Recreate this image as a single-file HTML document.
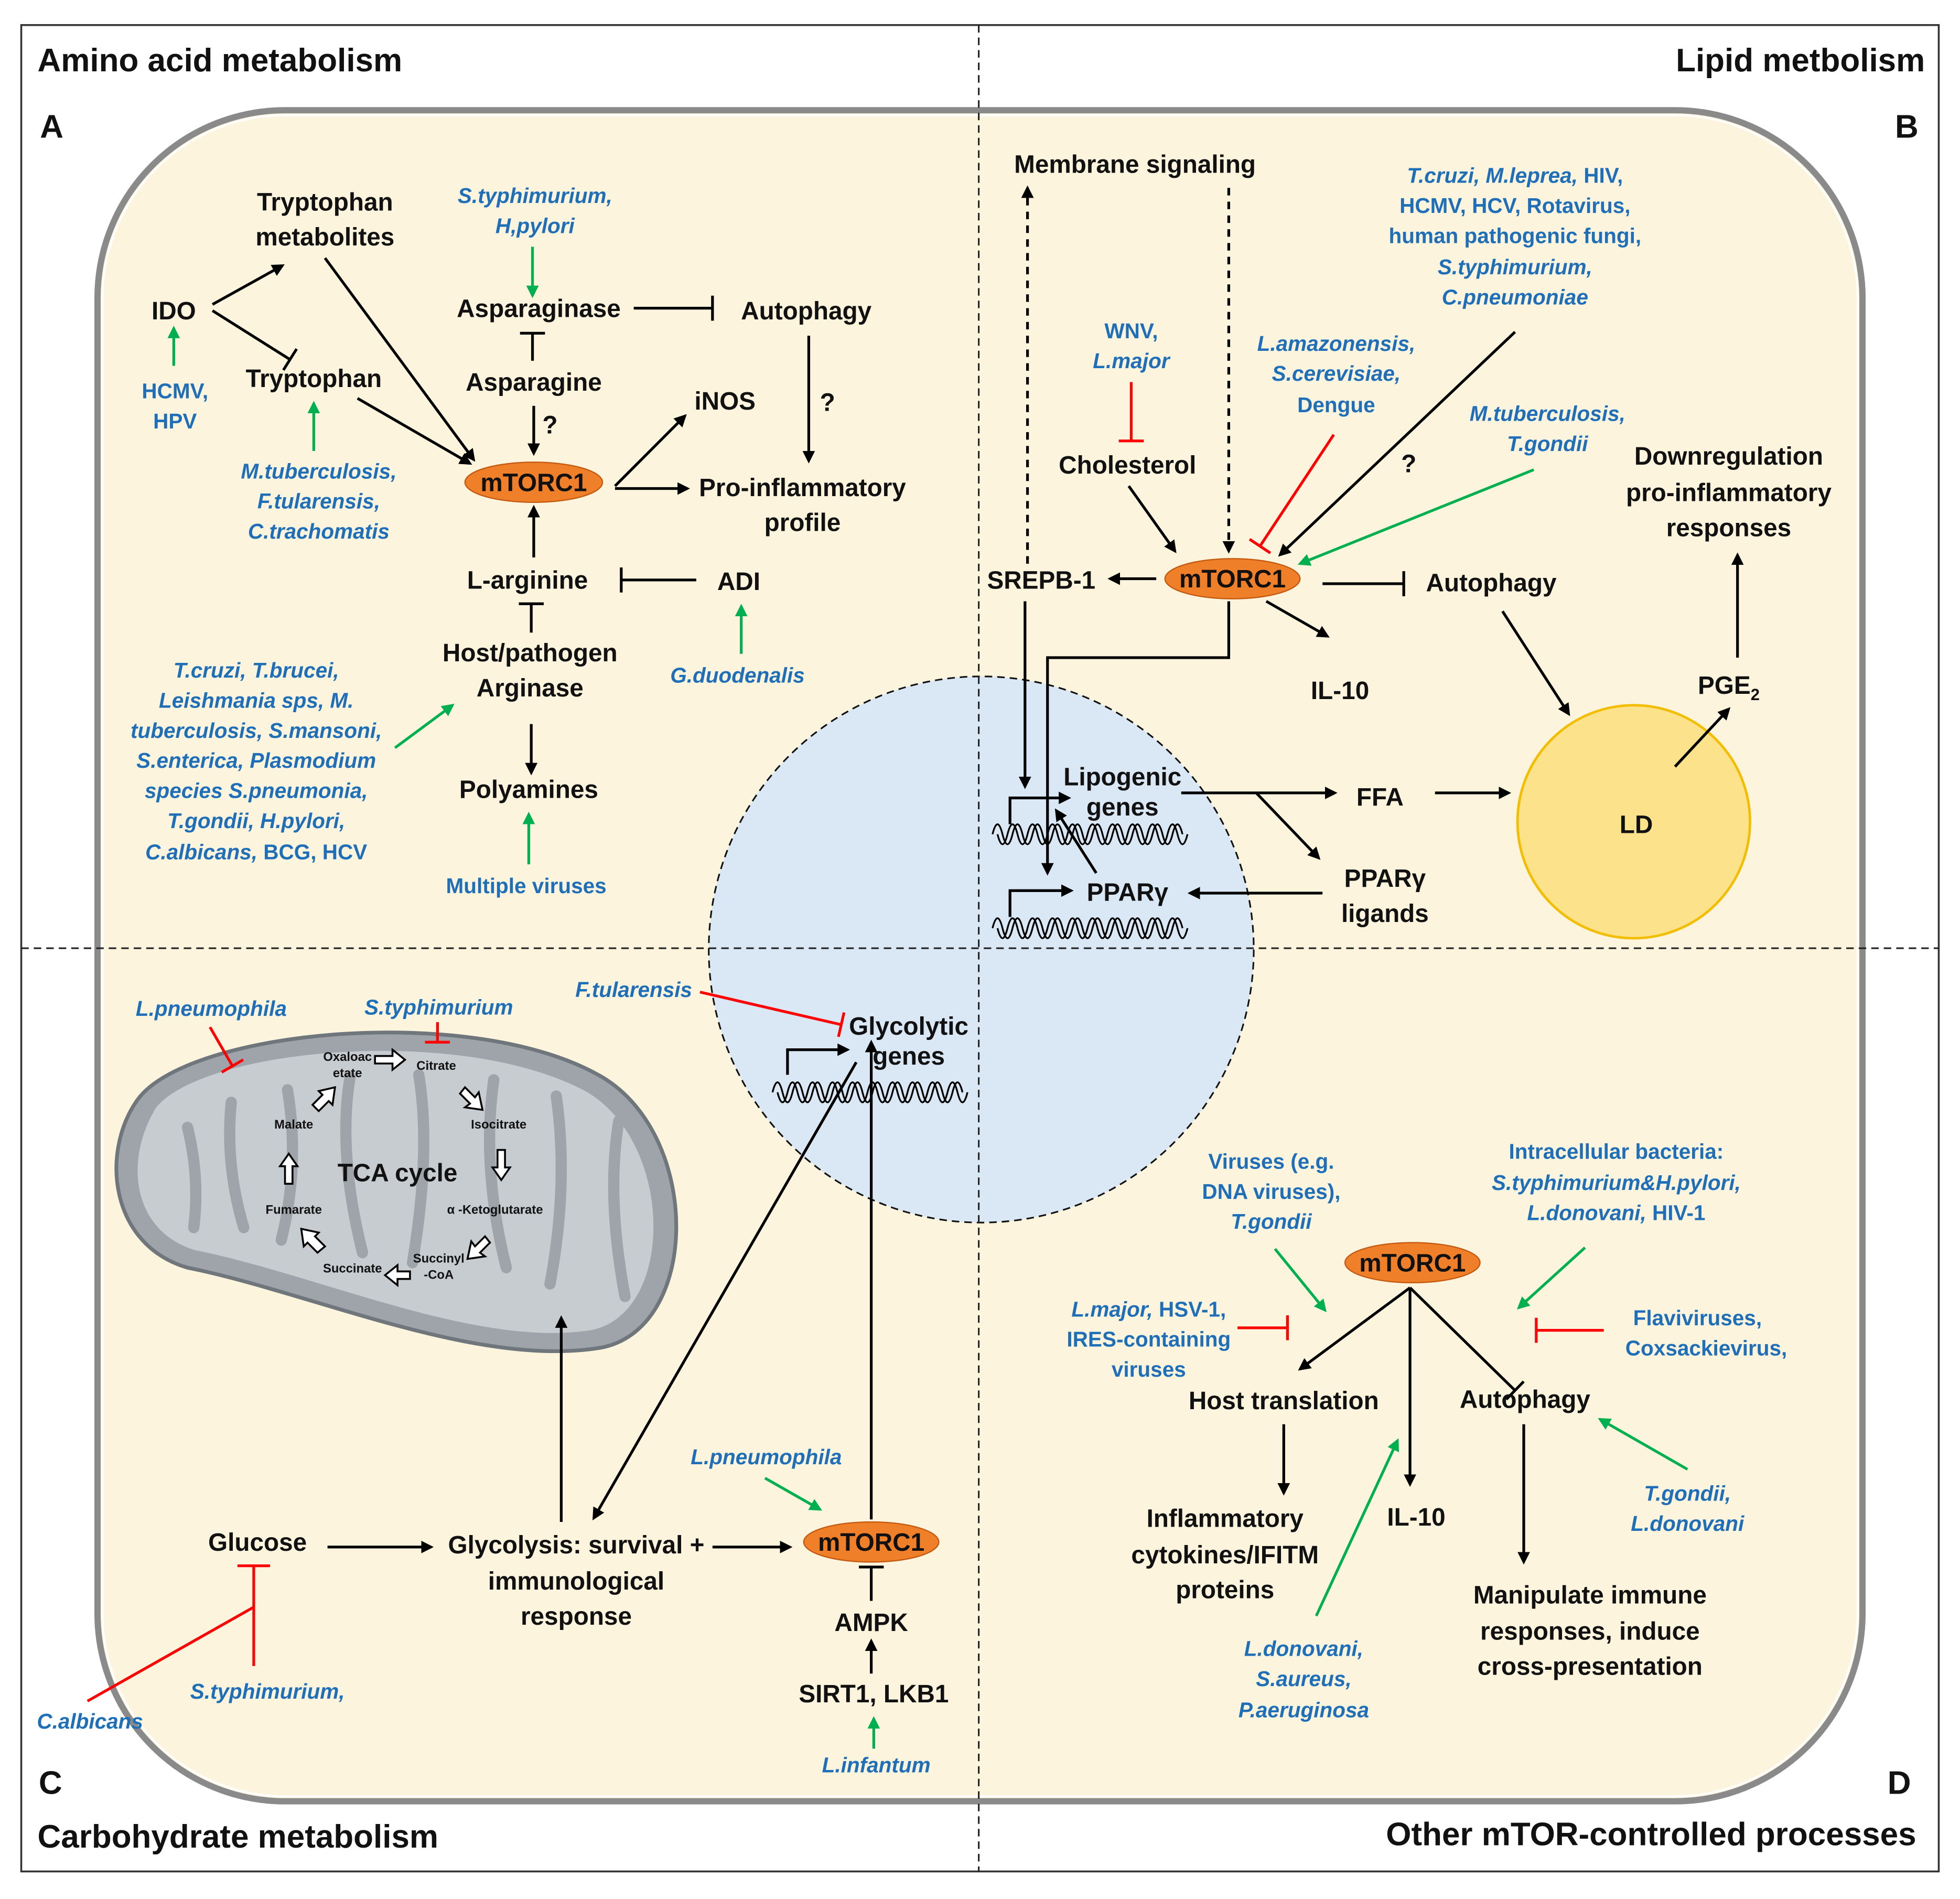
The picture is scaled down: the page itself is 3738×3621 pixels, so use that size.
<!DOCTYPE html>
<html><head><meta charset="utf-8">
<style>
html,body{margin:0;padding:0;background:#fff;}
svg{display:block;}
text{font-family:"Liberation Sans",sans-serif;font-weight:bold;}
.k{font-size:20px;fill:#111;text-anchor:middle;}
.b{font-size:17px;fill:#1f6fb8;font-style:italic;text-anchor:middle;}
.bn{font-size:17px;fill:#1f6fb8;text-anchor:middle;}
.h{font-size:26px;fill:#111;}
.s{font-size:10px;fill:#111;text-anchor:middle;font-weight:bold;}
.ln{stroke:#000;stroke-width:2.2;fill:none;}
.g{stroke:#00b050;stroke-width:2.2;fill:none;}
.r{stroke:#ff0000;stroke-width:2.2;fill:none;}
.dna{stroke:#000;stroke-width:1.4;fill:none;}
</style></head>
<body>
<svg width="3738" height="3621" viewBox="0 0 1568 1516" preserveAspectRatio="none" xmlns="http://www.w3.org/2000/svg">
<defs>
<marker id="ak" markerWidth="10" markerHeight="10" refX="8" refY="5" orient="auto" markerUnits="userSpaceOnUse"><path d="M0,0 L10,5 L0,10 z" fill="#000"/></marker>
<marker id="ag" markerWidth="10" markerHeight="10" refX="8" refY="5" orient="auto" markerUnits="userSpaceOnUse"><path d="M0,0 L10,5 L0,10 z" fill="#00b050"/></marker>
<marker id="tk" markerWidth="4" markerHeight="20" refX="2" refY="10" orient="auto" markerUnits="userSpaceOnUse"><path d="M2,0 L2,20" stroke="#000" stroke-width="2.2"/></marker>
<marker id="tr" markerWidth="4" markerHeight="20" refX="2" refY="10" orient="auto" markerUnits="userSpaceOnUse"><path d="M2,0 L2,20" stroke="#f00" stroke-width="2.2"/></marker>
<path id="wv" d="M0,0 q4,-16 8,0 q4,16 8,0 q4,-16 8,0 q4,16 8,0 q4,-16 8,0 q4,16 8,0 q4,-16 8,0 q4,16 8,0 q4,-16 8,0 q4,16 8,0 q4,-16 8,0 q4,16 8,0 q4,-16 8,0 q4,16 8,0 q4,-16 8,0 q4,16 8,0 q4,-16 8,0 q4,16 8,0 q4,-16 8,0"/>
<path id="wv2" d="M0,0 q4,16 8,0 q4,-16 8,0 q4,16 8,0 q4,-16 8,0 q4,16 8,0 q4,-16 8,0 q4,16 8,0 q4,-16 8,0 q4,16 8,0 q4,-16 8,0 q4,16 8,0 q4,-16 8,0 q4,16 8,0 q4,-16 8,0 q4,16 8,0 q4,-16 8,0 q4,16 8,0 q4,-16 8,0 q4,16 8,0"/>
</defs>
<rect x="0" y="0" width="1568" height="1516" fill="#fff"/>
<rect x="17" y="20" width="1534" height="1474" fill="#fff" stroke="#333" stroke-width="1.5"/>
<rect x="78" y="88" width="1412" height="1350" rx="150" fill="#fdf4de" stroke="#8a8a8a" stroke-width="5"/>
<rect x="82" y="92" width="1404" height="1342" rx="146" fill="none" stroke="#fff" stroke-width="1.5"/>
<circle cx="785" cy="758" r="218" fill="#dae8f5" stroke="#111" stroke-width="1.3" stroke-dasharray="6,4"/>
<line x1="783" y1="20" x2="783" y2="1494" stroke="#222" stroke-width="1.3" stroke-dasharray="6,4"/>
<line x1="17" y1="757" x2="1551" y2="757" stroke="#222" stroke-width="1.3" stroke-dasharray="6,4"/>
<circle cx="1307" cy="656" r="93" fill="#fde28c" stroke="#f3bd00" stroke-width="2"/>
<text class="k" x="1309" y="665" font-size="18">LD</text>

<text class="h" x="30" y="57">Amino acid metabolism</text>
<text class="h" x="32" y="110">A</text>
<text class="h" x="1540" y="57" text-anchor="end">Lipid metbolism</text>
<text class="h" x="1516" y="110">B</text>
<text class="h" x="31" y="1432">C</text>
<text class="h" x="30" y="1475">Carbohydrate metabolism</text>
<text class="h" x="1510" y="1432">D</text>
<text class="h" x="1533" y="1473" text-anchor="end">Other mTOR-controlled processes</text>

<!-- Panel A -->
<text class="k" x="260" y="168">Tryptophan</text>
<text class="k" x="260" y="196">metabolites</text>
<text class="k" x="139" y="255">IDO</text>
<line class="ln" x1="170" y1="243" x2="226" y2="212" marker-end="url(#ak)"/>
<line class="ln" x1="170" y1="248" x2="232" y2="287" marker-end="url(#tk)"/>
<line class="g" x1="139" y1="292" x2="139" y2="262" marker-end="url(#ag)"/>
<text class="bn" x="140" y="318">HCMV,</text>
<text class="bn" x="140" y="342">HPV</text>
<text class="k" x="251" y="309">Tryptophan</text>
<line class="g" x1="251" y1="360" x2="251" y2="322" marker-end="url(#ag)"/>
<text class="b" x="255" y="382">M.tuberculosis,</text>
<text class="b" x="255" y="406">F.tularensis,</text>
<text class="b" x="255" y="430">C.trachomatis</text>
<line class="ln" x1="260" y1="206" x2="379" y2="367" marker-end="url(#ak)"/>
<line class="ln" x1="286" y1="318" x2="376" y2="370" marker-end="url(#ak)"/>
<ellipse cx="427" cy="385" rx="55" ry="16" fill="#f07f2a" stroke="#c45a10" stroke-width="1"/>
<text class="k" x="427" y="392" font-size="19">mTORC1</text>
<text class="b" x="428" y="162">S.typhimurium,</text>
<text class="b" x="428" y="186">H,pylori</text>
<line class="g" x1="426" y1="197" x2="426" y2="236" marker-end="url(#ag)"/>
<text class="k" x="431" y="253">Asparaginase</text>
<line class="ln" x1="507" y1="246" x2="570" y2="246" marker-end="url(#tk)"/>
<text class="k" x="645" y="255">Autophagy</text>
<line class="ln" x1="647" y1="268" x2="647" y2="368" marker-end="url(#ak)"/>
<text class="k" x="662" y="328">?</text>
<line class="ln" x1="426" y1="288" x2="426" y2="266" marker-end="url(#tk)"/>
<text class="k" x="427" y="312">Asparagine</text>
<line class="ln" x1="427" y1="324" x2="427" y2="362" marker-end="url(#ak)"/>
<text class="k" x="440" y="346">?</text>
<line class="ln" x1="492" y1="388" x2="548" y2="332" marker-end="url(#ak)"/>
<line class="ln" x1="492" y1="390" x2="550" y2="390" marker-end="url(#ak)"/>
<text class="k" x="580" y="327">iNOS</text>
<text class="k" x="642" y="396">Pro-inflammatory</text>
<text class="k" x="642" y="424">profile</text>
<line class="ln" x1="427" y1="445" x2="427" y2="405" marker-end="url(#ak)"/>
<text class="k" x="422" y="470">L-arginine</text>
<line class="ln" x1="557" y1="463" x2="497" y2="463" marker-end="url(#tk)"/>
<text class="k" x="591" y="471">ADI</text>
<line class="g" x1="593" y1="522" x2="593" y2="484" marker-end="url(#ag)"/>
<text class="b" x="590" y="545">G.duodenalis</text>
<line class="ln" x1="425" y1="505" x2="425" y2="482" marker-end="url(#tk)"/>
<text class="k" x="424" y="528">Host/pathogen</text>
<text class="k" x="424" y="556">Arginase</text>
<line class="ln" x1="425" y1="578" x2="425" y2="617" marker-end="url(#ak)"/>
<text class="k" x="423" y="637">Polyamines</text>
<line class="g" x1="423" y1="690" x2="423" y2="650" marker-end="url(#ag)"/>
<text class="bn" x="421" y="713">Multiple viruses</text>
<text class="b" x="205" y="541">T.cruzi, T.brucei,</text>
<text class="b" x="205" y="565">Leishmania sps, M.</text>
<text class="b" x="205" y="589">tuberculosis, S.mansoni,</text>
<text class="b" x="205" y="613">S.enterica, Plasmodium</text>
<text class="b" x="205" y="637">species S.pneumonia,</text>
<text class="b" x="205" y="661">T.gondii,  H.pylori,</text>
<text class="b" x="205" y="686">C.albicans, <tspan font-style="normal">BCG, HCV</tspan></text>
<line class="g" x1="316" y1="597" x2="362" y2="563" marker-end="url(#ag)"/>

<!-- Panel B -->
<text class="k" x="908" y="138">Membrane signaling</text>
<line class="ln" x1="822" y1="450" x2="822" y2="150" stroke-dasharray="6,5" marker-end="url(#ak)"/>
<line class="ln" x1="983" y1="150" x2="983" y2="440" stroke-dasharray="6,5" marker-end="url(#ak)"/>
<text class="b" x="1212" y="146">T.cruzi, M.leprea, <tspan font-style="normal">HIV,</tspan></text>
<text class="bn" x="1212" y="170">HCMV, HCV, Rotavirus,</text>
<text class="bn" x="1212" y="194">human pathogenic fungi,</text>
<text class="b" x="1212" y="219">S.typhimurium,</text>
<text class="b" x="1212" y="243">C.pneumoniae</text>
<text class="bn" x="905" y="270">WNV,</text>
<text class="b" x="905" y="294">L.major</text>
<line class="r" x1="905" y1="305" x2="905" y2="352" marker-end="url(#tr)"/>
<text class="b" x="1069" y="280">L.amazonensis,</text>
<text class="b" x="1069" y="304">S.cerevisiae,</text>
<text class="bn" x="1069" y="329">Dengue</text>
<line class="r" x1="1067" y1="347" x2="1008" y2="436" marker-end="url(#tr)"/>
<text class="b" x="1238" y="336">M.tuberculosis,</text>
<text class="b" x="1238" y="360">T.gondii</text>
<line class="g" x1="1227" y1="375" x2="1040" y2="450" marker-end="url(#ag)"/>
<line class="ln" x1="1212" y1="265" x2="1024" y2="443" marker-end="url(#ak)"/>
<text class="k" x="1127" y="377">?</text>
<text class="k" x="902" y="378">Cholesterol</text>
<line class="ln" x1="903" y1="388" x2="940" y2="440" marker-end="url(#ak)"/>
<ellipse cx="986" cy="462" rx="54" ry="16" fill="#f07f2a" stroke="#c45a10" stroke-width="1"/>
<text class="k" x="986" y="469" font-size="19">mTORC1</text>
<text class="k" x="833" y="470">SREPB-1</text>
<line class="ln" x1="925" y1="462" x2="888" y2="462" marker-end="url(#ak)"/>
<line class="ln" x1="1058" y1="466" x2="1123" y2="466" marker-end="url(#tk)"/>
<text class="k" x="1193" y="472">Autophagy</text>
<line class="ln" x1="1013" y1="480" x2="1062" y2="508" marker-end="url(#ak)"/>
<text class="k" x="1072" y="558">IL-10</text>
<polyline class="ln" points="983,480 983,525 838,525 838,697" marker-end="url(#ak)"/>
<line class="ln" x1="820" y1="480" x2="820" y2="628" marker-end="url(#ak)"/>
<text class="k" x="1383" y="371">Downregulation</text>
<text class="k" x="1383" y="400">pro-inflammatory</text>
<text class="k" x="1383" y="428">responses</text>
<line class="ln" x1="1390" y1="525" x2="1390" y2="443" marker-end="url(#ak)"/>
<line class="ln" x1="1202" y1="488" x2="1255" y2="570" marker-end="url(#ak)"/>
<text class="k" x="1383" y="554">PGE<tspan font-size="13" dy="5">2</tspan></text>
<line class="ln" x1="1340" y1="612" x2="1383" y2="566" marker-end="url(#ak)"/>
<text class="k" x="898" y="627" font-size="18">Lipogenic</text>
<text class="k" x="898" y="651" font-size="18">genes</text>
<line class="ln" x1="945" y1="633" x2="1068" y2="633" marker-end="url(#ak)"/>
<text class="k" x="1104" y="643">FFA</text>
<line class="ln" x1="1148" y1="633" x2="1207" y2="633" marker-end="url(#ak)"/>
<line class="ln" x1="1005" y1="633" x2="1055" y2="685" marker-end="url(#ak)"/>
<text class="k" x="1108" y="708">PPARγ</text>
<text class="k" x="1108" y="736">ligands</text>
<line class="ln" x1="1058" y1="713" x2="952" y2="713" marker-end="url(#ak)"/>
<text class="k" x="902" y="719" font-size="18">PPARγ</text>
<line class="ln" x1="877" y1="697" x2="845" y2="647" marker-end="url(#ak)"/>
<polyline class="ln" points="808,658 808,637 855,637" marker-end="url(#ak)"/>
<polyline class="ln" points="808,732 808,711 857,711" marker-end="url(#ak)"/>
<use href="#wv" class="dna" x="794" y="666"/>
<use href="#wv2" class="dna" x="798" y="666"/>
<use href="#wv" class="dna" x="794" y="741"/>
<use href="#wv2" class="dna" x="798" y="741"/>

<!-- Panel C -->
<path d="M110,878 C150,822 380,800 482,860 C562,908 560,1062 480,1076 C380,1092 250,1032 150,1012 C88,994 80,920 110,878 Z" fill="#9ea4a9" stroke="#6f767c" stroke-width="3"/>
<path d="M125,884 C165,836 372,818 470,872 C540,914 540,1050 472,1062 C380,1076 256,1018 156,998 C104,982 100,924 125,884 Z" fill="#c7ccd0"/>
<g stroke="#9ea4a9" stroke-width="9" fill="none" stroke-linecap="round">
<path d="M150,900 q10,40 5,80"/><path d="M185,880 q-5,50 10,100"/><path d="M230,870 q10,60 -5,120"/>
<path d="M280,860 q-10,60 10,140"/><path d="M335,858 q10,60 -5,150"/><path d="M395,862 q-10,70 10,150"/>
<path d="M445,875 q10,70 -5,150"/><path d="M495,895 q-10,60 5,140"/>
</g>
<text class="k" x="318" y="943" font-size="19">TCA cycle</text>
<text class="s" x="278" y="847">Oxaloac</text><text class="s" x="278" y="860">etate</text>
<text class="s" x="349" y="854">Citrate</text>
<text class="s" x="399" y="901">Isocitrate</text>
<text class="s" x="396" y="969">α -Ketoglutarate</text>
<text class="s" x="351" y="1008">Succinyl</text><text class="s" x="351" y="1021">-CoA</text>
<text class="s" x="282" y="1016">Succinate</text>
<text class="s" x="235" y="969">Fumarate</text>
<text class="s" x="235" y="901">Malate</text>
<g fill="#fff" stroke="#000" stroke-width="1.5">
<path d="M300,843 h14 v-5 l10,8 l-10,8 v-5 h-14 z"/>
<path d="M372,868 l8,8 l3,-4 l3,14 l-14,-2 l4,-3 l-8,-8 z"/>
<path d="M398,918 h6 v14 h4 l-7,10 l-7,-10 h4 z"/>
<path d="M388,987 l-8,8 l-3,-4 l-3,14 l14,-2 l-4,-3 l8,-8 z"/>
<path d="M328,1015 h-10 v-5 l-10,8 l10,8 v-5 h10 z"/>
<path d="M260,995 l-8,-8 l3,-3 l-14,-3 l2,14 l3,-3 l8,8 z"/>
<path d="M228,945 h6 v-14 h4 l-7,-10 l-7,10 h4 z"/>
<path d="M250,882 l8,-8 l-3,-3 l13,-3 l-2,14 l-3,-3 l-8,8 z"/>
</g>
<text class="b" x="169" y="811">L.pneumophila</text>
<line class="r" x1="168" y1="820" x2="186" y2="851" marker-end="url(#tr)"/>
<text class="b" x="351" y="810">S.typhimurium</text>
<line class="r" x1="350" y1="816" x2="350" y2="832" marker-end="url(#tr)"/>
<text class="b" x="507" y="796">F.tularensis</text>
<line class="r" x1="560" y1="792" x2="673" y2="818" marker-end="url(#tr)"/>
<text class="k" x="727" y="826" font-size="18">Glycolytic</text>
<text class="k" x="727" y="850" font-size="18">genes</text>
<polyline class="ln" points="630,858 630,838 678,838" marker-end="url(#ak)"/>
<use href="#wv" class="dna" x="618" y="872"/>
<use href="#wv2" class="dna" x="622" y="872"/>
<text class="k" x="206" y="1238">Glucose</text>
<line class="ln" x1="262" y1="1235" x2="345" y2="1235" marker-end="url(#ak)"/>
<text class="k" x="461" y="1240">Glycolysis: survival +</text>
<text class="k" x="461" y="1269">immunological</text>
<text class="k" x="461" y="1297">response</text>
<line class="ln" x1="570" y1="1235" x2="632" y2="1235" marker-end="url(#ak)"/>
<line class="ln" x1="449" y1="1215" x2="449" y2="1052" marker-end="url(#ak)"/>
<line class="ln" x1="685" y1="848" x2="475" y2="1212" marker-end="url(#ak)"/>
<ellipse cx="697" cy="1231" rx="54" ry="16" fill="#f07f2a" stroke="#c45a10" stroke-width="1"/>
<text class="k" x="697" y="1238" font-size="19">mTORC1</text>
<line class="ln" x1="697" y1="1213" x2="697" y2="832" marker-end="url(#ak)"/>
<line class="ln" x1="697" y1="1278" x2="697" y2="1251" marker-end="url(#tk)"/>
<text class="k" x="697" y="1302">AMPK</text>
<line class="ln" x1="697" y1="1336" x2="697" y2="1310" marker-end="url(#ak)"/>
<text class="k" x="699" y="1359">SIRT1, LKB1</text>
<line class="g" x1="699" y1="1396" x2="699" y2="1372" marker-end="url(#ag)"/>
<text class="b" x="701" y="1415">L.infantum</text>
<text class="b" x="613" y="1169">L.pneumophila</text>
<line class="g" x1="612" y1="1180" x2="656" y2="1205" marker-end="url(#ag)"/>
<line class="r" x1="203" y1="1330" x2="203" y2="1250"/>
<line class="r" x1="190" y1="1250" x2="216" y2="1250"/>
<line class="r" x1="70" y1="1358" x2="203" y2="1283"/>
<text class="b" x="72" y="1380">C.albicans</text>
<text class="b" x="214" y="1356">S.typhimurium,</text>

<!-- Panel D -->
<text class="bn" x="1017" y="933">Viruses (e.g.</text>
<text class="bn" x="1017" y="957">DNA viruses),</text>
<text class="b" x="1017" y="981">T.gondii</text>
<line class="g" x1="1020" y1="997" x2="1060" y2="1046" marker-end="url(#ag)"/>
<text class="bn" x="1293" y="925">Intracellular bacteria:</text>
<text class="b" x="1293" y="950">S.typhimurium&amp;H.pylori,</text>
<text class="b" x="1293" y="974">L.donovani,  <tspan font-style="normal">HIV-1</tspan></text>
<line class="g" x1="1268" y1="996" x2="1215" y2="1044" marker-end="url(#ag)"/>
<ellipse cx="1130" cy="1008" rx="54" ry="16" fill="#f07f2a" stroke="#c45a10" stroke-width="1"/>
<text class="k" x="1130" y="1015" font-size="19">mTORC1</text>
<line class="ln" x1="1128" y1="1028" x2="1040" y2="1093" marker-end="url(#ak)"/>
<line class="ln" x1="1128" y1="1028" x2="1128" y2="1185" marker-end="url(#ak)"/>
<line class="ln" x1="1128" y1="1028" x2="1212" y2="1110" marker-end="url(#tk)"/>
<text class="b" x="919" y="1051">L.major, <tspan font-style="normal">HSV-1,</tspan></text>
<text class="bn" x="919" y="1075">IRES-containing</text>
<text class="bn" x="919" y="1099">viruses</text>
<line class="r" x1="990" y1="1060" x2="1030" y2="1060" marker-end="url(#tr)"/>
<text class="bn" x="1358" y="1058">Flaviviruses,</text>
<text class="bn" x="1365" y="1082">Coxsackievirus,</text>
<line class="r" x1="1283" y1="1062" x2="1229" y2="1062" marker-end="url(#tr)"/>
<text class="k" x="1027" y="1125">Host translation</text>
<text class="k" x="1220" y="1124">Autophagy</text>
<line class="g" x1="1350" y1="1173" x2="1280" y2="1133" marker-end="url(#ag)"/>
<text class="b" x="1350" y="1198">T.gondii,</text>
<text class="b" x="1350" y="1222">L.donovani</text>
<line class="ln" x1="1027" y1="1137" x2="1027" y2="1192" marker-end="url(#ak)"/>
<text class="k" x="980" y="1219">Inflammatory</text>
<text class="k" x="980" y="1248">cytokines/IFITM</text>
<text class="k" x="980" y="1276">proteins</text>
<text class="k" x="1133" y="1218">IL-10</text>
<line class="g" x1="1053" y1="1290" x2="1118" y2="1150" marker-end="url(#ag)"/>
<text class="b" x="1043" y="1322">L.donovani,</text>
<text class="b" x="1043" y="1346">S.aureus,</text>
<text class="b" x="1043" y="1371">P.aeruginosa</text>
<line class="ln" x1="1219" y1="1137" x2="1219" y2="1247" marker-end="url(#ak)"/>
<text class="k" x="1272" y="1280">Manipulate immune</text>
<text class="k" x="1272" y="1309">responses, induce</text>
<text class="k" x="1272" y="1337">cross-presentation</text>
</svg>
</body></html>
